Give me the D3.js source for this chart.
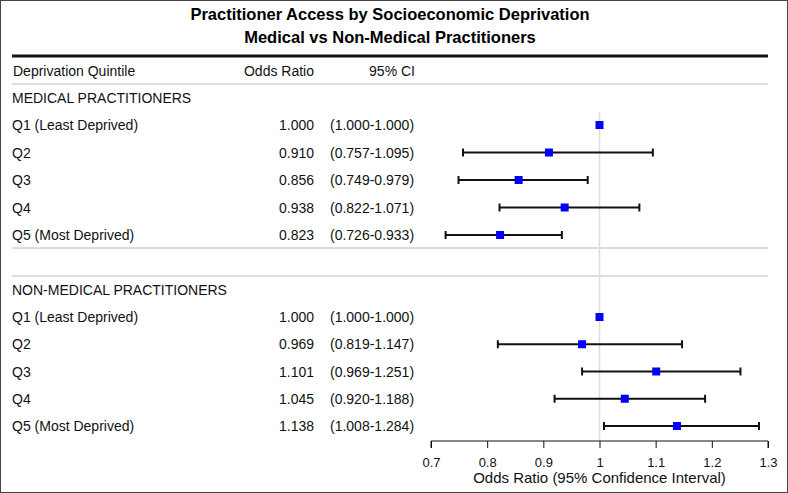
<!DOCTYPE html>
<html>
<head>
<meta charset="utf-8">
<script src="https://cdn.jsdelivr.net/npm/d3@7"></script>
<style>
  body { margin: 0; background: #fff; }
  svg { display: block; }
</style>
</head>
<body>
<svg width="788" height="493"></svg>
<script>
const svg = d3.select("svg");
const W = 788, H = 493;

// data
const groupNames = ["MEDICAL PRACTITIONERS", "NON-MEDICAL PRACTITIONERS"];
const quintiles = ["Q1 (Least Deprived)", "Q2", "Q3", "Q4", "Q5 (Most Deprived)"];
const medicalOR = [1.000, 0.910, 0.856, 0.938, 0.823];
const medicalLo = [1.000, 0.757, 0.749, 0.822, 0.726];
const medicalHi = [1.000, 1.095, 0.979, 1.071, 0.933];
const nonMedOR = [1.000, 0.969, 1.101, 1.045, 1.138];
const nonMedLo = [1.000, 0.819, 0.969, 0.920, 1.008];
const nonMedHi = [1.000, 1.147, 1.251, 1.188, 1.284];
const xTicks = [0.7, 0.8, 0.9, 1, 1.1, 1.2, 1.3];

const FONT = "'Liberation Sans', Arial, sans-serif";

const x = d3.scaleLinear().domain([0.7, 1.3]).range([431, 768]);

const rowsMed = quintiles.map((q, i) => ({ label: q, or: medicalOR[i], lo: medicalLo[i], hi: medicalHi[i] }));
const rowsNon = quintiles.map((q, i) => ({ label: q, or: nonMedOR[i], lo: nonMedLo[i], hi: nonMedHi[i] }));
const yMed = d3.scalePoint().domain(d3.range(5)).range([125, 235]);
const yNon = d3.scalePoint().domain(d3.range(5)).range([317, 426]);

// frame
svg.append("rect").attr("x", 0.5).attr("y", 0.5).attr("width", W - 1).attr("height", H - 1)
   .attr("fill", "none").attr("stroke", "#444").attr("stroke-width", 1);

// titles
svg.append("text").attr("x", 390).attr("y", 20).attr("text-anchor", "middle")
   .style("font-family", FONT).style("font-weight", "bold").style("font-size", "16.5px")
   .text("Practitioner Access by Socioeconomic Deprivation");
svg.append("text").attr("x", 390).attr("y", 43).attr("text-anchor", "middle")
   .style("font-family", FONT).style("font-weight", "bold").style("font-size", "16.5px")
   .text("Medical vs Non-Medical Practitioners");

// thick rule + header
svg.append("line").attr("x1", 12).attr("x2", 768).attr("y1", 56).attr("y2", 56)
   .attr("stroke", "#111").attr("stroke-width", 3);
const hdr = svg.append("g").style("font-family", FONT).style("font-size", "14px").attr("fill", "#111");
hdr.append("text").attr("x", 13).attr("y", 76).text("Deprivation Quintile");
hdr.append("text").attr("x", 314).attr("y", 76).attr("text-anchor", "end").text("Odds Ratio");
hdr.append("text").attr("x", 415).attr("y", 76).attr("text-anchor", "end").text("95% CI");

const grey = "#bbb";
[84, 248, 276].forEach(yy => {
  svg.append("line").attr("x1", 12).attr("x2", 768).attr("y1", yy).attr("y2", yy)
     .attr("stroke", grey).attr("stroke-width", 1);
});

// reference line at 1
svg.append("line").attr("x1", x(1)).attr("x2", x(1)).attr("y1", 112).attr("y2", 441)
   .attr("stroke", "#ddd").attr("stroke-width", 1.5);

function drawGroup(name, rows, y, headY) {
  const g = svg.append("g").style("font-family", FONT).style("font-size", "14px").attr("fill", "#111");
  g.append("text").attr("x", 12).attr("y", headY + 5).text(name);

  const r = g.selectAll("g.row").data(rows).enter().append("g").attr("class", "row");
  r.append("text").attr("x", 12).attr("y", (d, i) => y(i) + 5).text(d => d.label);
  r.append("text").attr("x", 314).attr("y", (d, i) => y(i) + 5).attr("text-anchor", "end")
   .text(d => d.or.toFixed(3));
  r.append("text").attr("x", 330).attr("y", (d, i) => y(i) + 5)
   .text(d => "(" + d.lo.toFixed(3) + "-" + d.hi.toFixed(3) + ")");

  const ci = r.filter(d => d.hi > d.lo);
  ci.append("line").attr("x1", d => x(d.lo)).attr("x2", d => x(d.hi))
    .attr("y1", d => y(rows.indexOf(d))).attr("y2", d => y(rows.indexOf(d)))
    .attr("stroke", "#111").attr("stroke-width", 2.2);
  ["lo", "hi"].forEach(k => {
    ci.append("line").attr("x1", d => x(d[k])).attr("x2", d => x(d[k]))
      .attr("y1", d => y(rows.indexOf(d)) - 4).attr("y2", d => y(rows.indexOf(d)) + 4)
      .attr("stroke", "#111").attr("stroke-width", 2);
  });
  r.append("rect").attr("x", d => x(d.or) - 4).attr("y", (d, i) => y(i) - 4)
   .attr("width", 8).attr("height", 8).attr("fill", "#0000ff");
}

drawGroup(groupNames[0], rowsMed, yMed, 98);
drawGroup(groupNames[1], rowsNon, yNon, 290);

// x axis
const axis = d3.axisBottom(x).tickValues(xTicks).tickFormat(d3.format("")).tickSize(7).tickPadding(10);
const ax = svg.append("g").attr("transform", "translate(0,441)").call(axis);
ax.select(".domain").attr("stroke", "#111").attr("d", "M" + x(0.7) + ",7V0H" + x(1.3) + "V7");
ax.selectAll(".tick line").attr("stroke", "#111");
ax.selectAll(".tick text").style("font-family", FONT).style("font-size", "13px").attr("fill", "#111");

svg.append("text").attr("x", x(1)).attr("y", 483).attr("text-anchor", "middle")
   .style("font-family", FONT).style("font-size", "15px").attr("fill", "#111")
   .text("Odds Ratio (95% Confidence Interval)");
</script>
</body>
</html>
